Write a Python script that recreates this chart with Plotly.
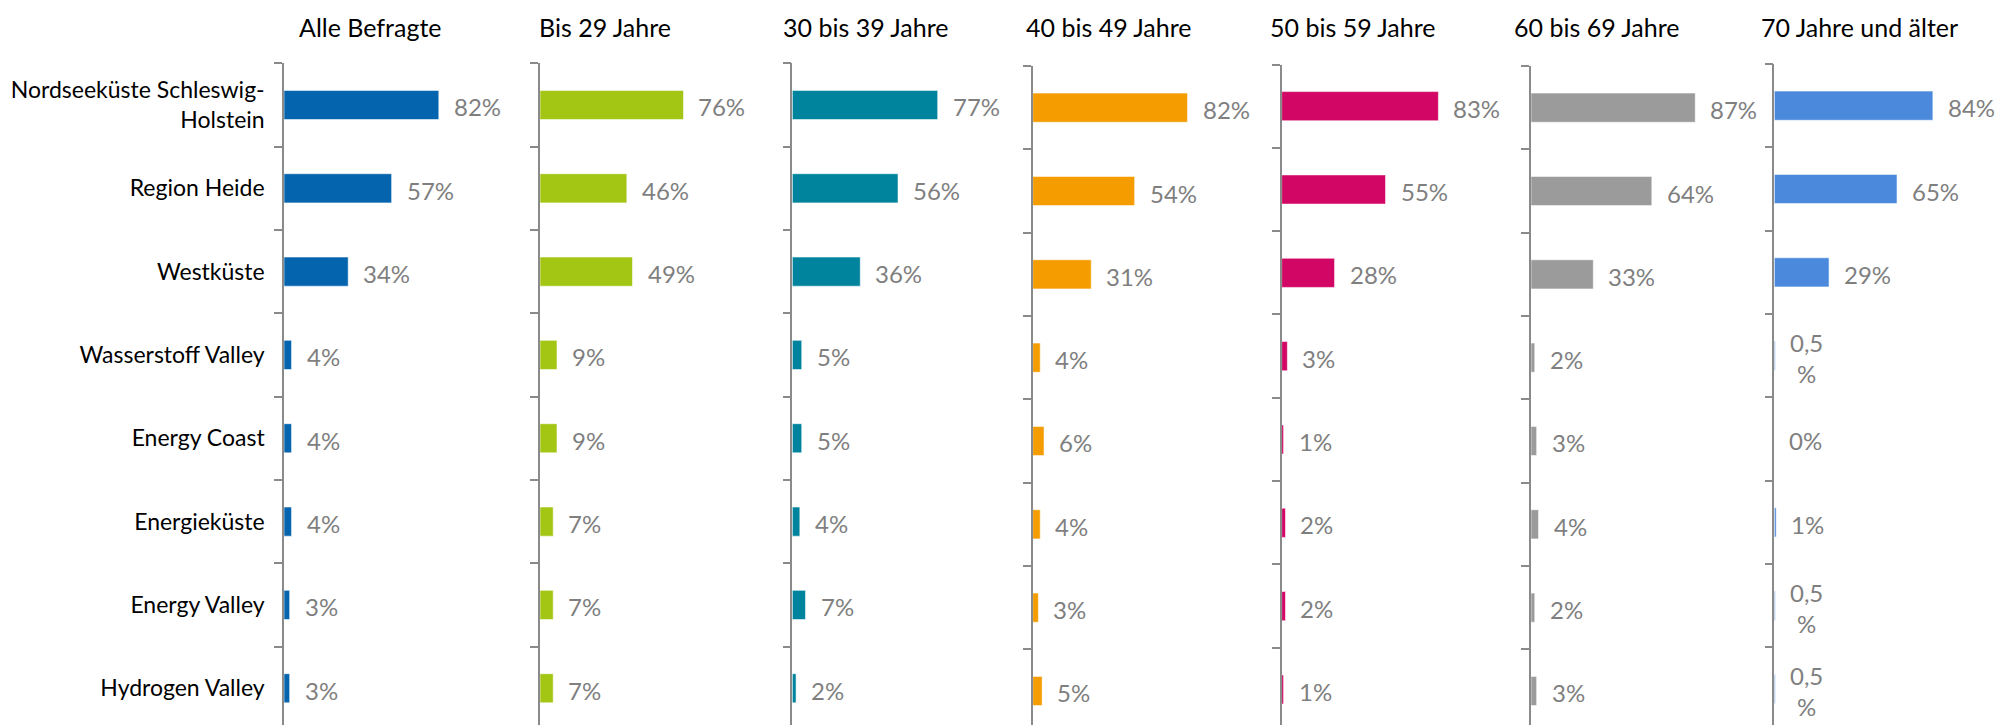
import plotly.graph_objects as go

# ---------------- data ----------------
categories = [
    "Nordseeküste Schleswig-Holstein",
    "Region Heide",
    "Westküste",
    "Wasserstoff Valley",
    "Energy Coast",
    "Energieküste",
    "Energy Valley",
    "Hydrogen Valley",
]
category_labels = [
    "Nordseeküste Schleswig-<br>Holstein",
    "Region Heide",
    "Westküste",
    "Wasserstoff Valley",
    "Energy Coast",
    "Energieküste",
    "Energy Valley",
    "Hydrogen Valley",
]
groups = [
    "Alle Befragte",
    "Bis 29 Jahre",
    "30 bis 39 Jahre",
    "40 bis 49 Jahre",
    "50 bis 59 Jahre",
    "60 bis 69 Jahre",
    "70 Jahre und älter",
]
alle_befragte = [82, 57, 34, 4, 4, 4, 3, 3]
bis_29 = [76, 46, 49, 9, 9, 7, 7, 7]
von_30_bis_39 = [77, 56, 36, 5, 5, 4, 7, 2]
von_40_bis_49 = [82, 54, 31, 4, 6, 4, 3, 5]
von_50_bis_59 = [83, 55, 28, 3, 1, 2, 2, 1]
von_60_bis_69 = [87, 64, 33, 2, 3, 4, 2, 3]
ab_70 = [84, 65, 29, 0.5, 0, 1, 0.5, 0.5]

series = [alle_befragte, bis_29, von_30_bis_39, von_40_bis_49,
          von_50_bis_59, von_60_bis_69, ab_70]
colors = ["#0465AE", "#A3C615", "#00849E", "#F59C00", "#D20664", "#9B9B9B", "#4A89DC"]

# ---------------- layout geometry (pixels) ----------------
W, H = 1995, 725
axis_x = [284, 540, 792.3, 1032.7, 1281.7, 1531, 1774.3]
axis_top = [63.3, 63.3, 63.3, 66, 64.5, 66, 64]
title_cx = [370.5, 604.5, 865.5, 1109, 1353, 1597, 1859]
px_per_pct = 1.888
band = 83.33
plot_w = 100 * px_per_pct

FONT = "Lato, 'Open Sans', sans-serif"
AXIS_COL = "#8a8a8a"
LABEL_COL = "#7f7f7f"


def fmt(v):
    if float(v).is_integer():
        return f"{int(v)}%"
    return f"{v}".replace(".", ",") + "<br>%"


fig = go.Figure()
annotations = []
layout = {}

for i, (vals, col, title) in enumerate(zip(series, colors, groups)):
    n = "" if i == 0 else str(i + 1)
    fig.add_trace(go.Bar(
        x=vals, y=categories, orientation="h",
        xaxis="x" + n, yaxis="y" + n,
        marker=dict(color=col, line=dict(color="rgba(255,255,255,0.55)", width=1)),
        width=0.35, showlegend=False, hoverinfo="x+y",
    ))
    x0 = axis_x[i] / W
    x1 = (axis_x[i] + plot_w) / W
    top = axis_top[i]
    layout["xaxis" + n] = dict(
        domain=[x0, x1], range=[0, 100], anchor="y" + n,
        visible=False, fixedrange=True,
    )
    bottom_val = (H - top) / band - 0.5
    layout["yaxis" + n] = dict(
        domain=[0, 1 - top / H], range=[bottom_val, -0.5], anchor="x" + n,
        type="category", categoryorder="array", categoryarray=categories,
        tickmode="array", tickvals=categories,
        ticktext=category_labels if i == 0 else [""] * len(categories),
        showticklabels=(i == 0),
        tickson="boundaries", ticks="outside", ticklen=8, tickwidth=1.5,
        tickcolor=AXIS_COL, showline=True, linecolor=AXIS_COL, linewidth=1.5,
        showgrid=False, zeroline=False, fixedrange=True,
        ticklabelstandoff=13,
        tickfont=dict(family=FONT, size=23, color="#000000"),
    )
    # title
    annotations.append(dict(
        text=title, xref="paper", yref="paper",
        x=title_cx[i] / W, y=1 - 27 / H, xanchor="center", yanchor="middle",
        showarrow=False, font=dict(family=FONT, size=25, color="#000000"),
    ))
    # data labels
    for c, v in zip(categories, vals):
        annotations.append(dict(
            text=fmt(v), x=v, y=c, xref="x" + n, yref="y" + n,
            xanchor="left", yanchor="middle", xshift=13, yshift=-2,
            showarrow=False, align="center",
            font=dict(family=FONT, size=24, color=LABEL_COL),
        ))

fig.update_layout(
    width=W, height=H,
    margin=dict(l=0, r=0, t=0, b=0),
    paper_bgcolor="white", plot_bgcolor="white",
    annotations=annotations,
    **layout,
)

fig.write_html(
    "out.html",
    config={"displayModeBar": False},
    post_script="document.body.style.margin='0';",
)
